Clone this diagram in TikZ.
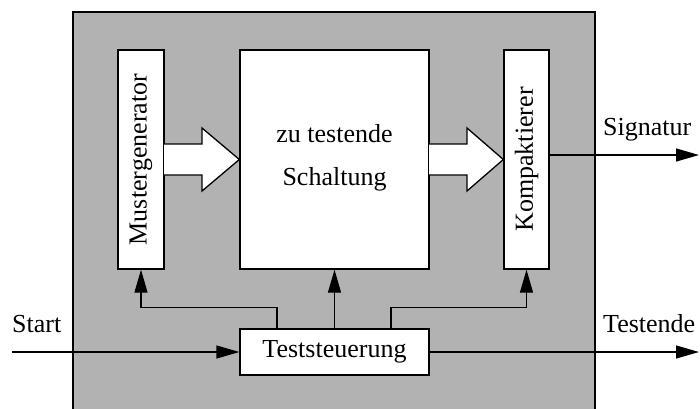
\documentclass[tikz,border=0pt]{standalone}
\usepackage{fontspec}
\setmainfont{Liberation Serif}
\usetikzlibrary{arrows.meta}
\begin{document}
\begin{tikzpicture}[x=1pt,y=-1pt,
  box/.style={draw, fill=white, line width=1.3pt, inner sep=0pt},
  lbl/.style={font=\fontsize{26}{30}\selectfont, inner sep=0pt},
  sig/.style={line width=1.3pt, -{Triangle[length=23pt,width=13pt]}},
  blockarrow/.style={draw, fill=white, line width=1.3pt, line join=miter}]
\useasboundingbox (0,0) rectangle (700,408);

% grey frame of the self-test unit
\fill[black!30] (73,12) rectangle (595,420);
\draw[line width=1.3pt] (73,420) -- (73,12) -- (595,12) -- (595,420);

% functional blocks
\node[box, minimum width=46pt, minimum height=219pt] (mg) at (141,159.5) {};
\node[lbl, rotate=90] at (mg.center) {Mustergenerator};
\node[box, minimum width=189pt, minimum height=219pt] (dut) at (334.5,159.5) {};
\node[lbl, anchor=base] at ([yshift=17.5pt]dut.center) {zu testende};
\node[lbl, anchor=base] at ([yshift=-25.5pt]dut.center) {Schaltung};
\node[box, minimum width=45pt, minimum height=219pt] (km) at (526.5,159.5) {};
\node[lbl, rotate=90] at (km.center) {Kompaktierer};
\node[box, minimum width=189pt, minimum height=46pt] (ctl) at (334.5,352) {};
\node[lbl] at (ctl.center) {Teststeuerung};

% wide data-flow arrows
\draw[blockarrow] (164,144) -- (202,144) -- (202,128) -- (dut.west) -- (202,191) -- (202,175) -- (164,175);
\draw[blockarrow] (429,144) -- (467,144) -- (467,128) -- (km.west) -- (467,191) -- (467,175) -- (429,175);

% control lines
\draw[sig] ([xshift=-57.5pt]ctl.north) |- ([yshift=-38pt]mg.south) -- (mg.south);
\draw[sig] (ctl.north) -- (dut.south);
\draw[sig] ([xshift=56.5pt]ctl.north) |- ([yshift=-38pt]km.south) -- (km.south);

% external signals
\coordinate (startin) at (12,352);
\coordinate (endout) at (699,352);
\coordinate (sigout) at (699,155);
\draw[sig] (startin) -- (ctl.west);
\draw[sig] (ctl.east) -- (endout);
\draw[sig] ([yshift=4.5pt]km.east) -- (sigout);
\node[lbl, anchor=base west] (lstart) at (12,332) {Start};
\node[lbl, anchor=base west] (lend) at (603,332) {Testende};
\node[lbl, anchor=base west] (lsig) at (603,135) {Signatur};
\end{tikzpicture}
\end{document}
